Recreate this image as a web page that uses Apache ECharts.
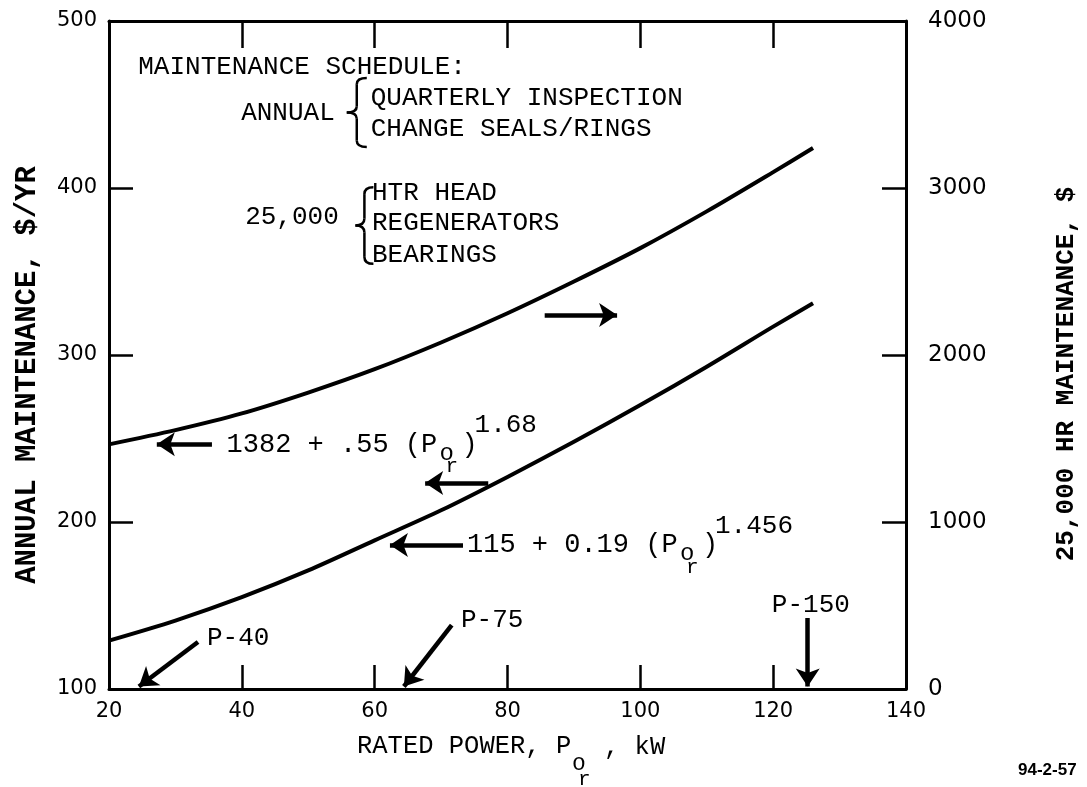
<!DOCTYPE html>
<html><head><meta charset="utf-8">
<script src="https://cdn.jsdelivr.net/npm/echarts@6/dist/echarts.min.js"></script>
<style>html,body{margin:0;padding:0;background:#fff}#c{width:1087px;height:787px}</style>
</head><body><div id="c"></div>
<script>
// ---- data ----
const powerKW      = [20, 30, 40, 50, 60, 70, 80, 90, 100, 110, 120, 126];
const annualCost   = [129, 141, 155, 171, 189, 207, 227, 248, 270, 293, 317, 331];      // $/yr, left axis
const hrCost25000  = [1465, 1550, 1650, 1775, 1915, 2075, 2250, 2440, 2640, 2860, 3095, 3240]; // $, right axis
const xRange = [20, 140, 20];
const yLeftRange = [100, 500, 100];
const yRightRange = [0, 4000, 1000];

const MONO = "'Liberation Mono','DejaVu Sans Mono',monospace";
const SANS = "'DejaVu Sans',sans-serif";
const K = '#000';

const chart = echarts.init(document.getElementById('c'), null, {renderer:'canvas'});

const lineAx = {show:true, onZero:false, lineStyle:{color:K, width:3}};
const tick = len => ({show:true, inside:true, length:len, lineStyle:{color:K, width:2.5}});

// arrows, in data units (x kW, left-axis $/yr)
const arrows = [
  [[35.5, 246.5], [27.2, 246.5]],
  [[77.1, 223.4], [67.6, 223.4]],
  [[85.6, 324.0], [96.5, 324.0]],
  [[73.3, 186.2], [62.3, 186.2]],
  [[33.4, 128.1], [24.5, 101.5]],
  [[71.6, 138.3], [64.4, 101.5]],
  [[125.2, 142.5], [125.2, 101.5]]
];

const option = {
  animation:false,
  backgroundColor:'#fff',
  grid:{left:109, right:181, top:21, bottom:98},
  xAxis:[
    {type:'value', position:'bottom', min:xRange[0], max:xRange[1], interval:xRange[2],
     axisLine:lineAx, axisTick:tick(24), splitLine:{show:false},
     axisLabel:{color:K, fontFamily:SANS, fontSize:21, margin:12}},
    {type:'value', position:'top', min:xRange[0], max:xRange[1], interval:xRange[2],
     axisLine:lineAx, axisTick:tick(27), splitLine:{show:false}, axisLabel:{show:false}}
  ],
  yAxis:[
    {type:'value', position:'left', min:yLeftRange[0], max:yLeftRange[1], interval:yLeftRange[2],
     axisLine:lineAx, axisTick:tick(24), splitLine:{show:false},
     axisLabel:{color:K, fontFamily:SANS, fontSize:21, margin:12, formatter:v=>String(v)}},
    {type:'value', position:'right', min:yRightRange[0], max:yRightRange[1], interval:yRightRange[2],
     axisLine:lineAx, axisTick:tick(24), splitLine:{show:false},
     axisLabel:{color:K, fontFamily:SANS, fontSize:23, margin:22, formatter:v=>String(v)}}
  ],
  series:[
    {type:'line', xAxisIndex:0, yAxisIndex:0, smooth:0.3, showSymbol:false, silent:true,
     data: powerKW.map((x,i)=>[x, annualCost[i]]),
     lineStyle:{color:K, width:4},
     markLine:{silent:true, symbol:['none','arrow'], symbolSize:18,
       label:{show:false}, lineStyle:{color:K, width:4.5, type:'solid'},
       emphasis:{disabled:true},
       data: arrows.map(a=>[{coord:a[0]},{coord:a[1]}])}},
    {type:'line', xAxisIndex:0, yAxisIndex:1, smooth:0.3, showSymbol:false, silent:true,
     data: powerKW.map((x,i)=>[x, hrCost25000[i]]),
     lineStyle:{color:K, width:4}}
  ]
};
chart.setOption(option);

const px = (x,y) => chart.convertToPixel({xAxisIndex:0, yAxisIndex:0}, [x,y]);
const T = (text, x, y, size, opts={}) => ({
  type:'text', x, y, rotation: opts.rot || 0,
  style:{text, fill:K, fontFamily: opts.family || MONO, fontSize:size,
    fontWeight: opts.weight || 'normal',
    align: opts.align || 'left', textAlign: opts.align || 'left',
    verticalAlign:'middle', textVerticalAlign:'middle'}
});
const S = {stroke:K, lineWidth:2.5, fill:null};

const notes = [
  ['MAINTENANCE SCHEDULE:', 24.4, 472.5],
  ['ANNUAL', 39.9, 445.0],
  ['QUARTERLY INSPECTION', 59.4, 454.0],
  ['CHANGE SEALS/RINGS', 59.4, 435.3],
  ['25,000', 40.5, 382.6],
  ['HTR HEAD', 59.6, 397.0],
  ['REGENERATORS', 59.6, 379.0],
  ['BEARINGS', 59.6, 359.9],
  ['P-40', 34.75, 130.5],
  ['P-75', 73.0, 141.3],
  ['P-150', 119.8, 150.3]
];
const braces = [
  [55.8, 465.9, 424.6, 20],
  [57.1, 400.5, 354.6, 18]
];
const equations = [
  ['1382 + .55 (P', '1.68', 37.7, 246.5],
  ['115 + 0.19 (P', '1.456', 73.9, 186.2]
];

const g = [];
notes.forEach(n => { const p = px(n[1], n[2]); g.push(T(n[0], p[0], p[1], 26)); });
braces.forEach(b => {
  const t = px(b[0], b[1]), bt = px(b[0], b[2]);
  const x0 = t[0], y0 = t[1], w = b[3], h = bt[1] - t[1], m = x0 + w/2;
  const bz = (x1,y1,cx,cy,x2,y2) => ({type:'bezierCurve', shape:{x1,y1,cpx1:cx,cpy1:cy,x2,y2}, style:S});
  const ln = (x1,y1,x2,y2) => ({type:'line', shape:{x1,y1,x2,y2}, style:S});
  g.push(bz(x0+w, y0, m, y0, m, y0+0.09*h));
  g.push(ln(m, y0+0.09*h, m, y0+0.41*h));
  g.push(bz(m, y0+0.41*h, m, y0+0.5*h, x0, y0+0.5*h));
  g.push(bz(x0, y0+0.5*h, m, y0+0.5*h, m, y0+0.59*h));
  g.push(ln(m, y0+0.59*h, m, y0+0.91*h));
  g.push(bz(m, y0+0.91*h, m, y0+h, x0+w, y0+h));
});
equations.forEach(e => {
  const p = px(e[2], e[3]);
  g.push(T(e[0], p[0], p[1], 27));
  g.push(T('o', p[0]+213, p[1]+9, 24));
  g.push(T('r', p[0]+219, p[1]+22, 21));
  g.push(T(')', p[0]+235, p[1], 27));
  g.push(T(e[1], p[0]+248, p[1]-19, 26));
});
// axis titles
g.push(T('ANNUAL MAINTENANCE, $/YR', 28, 375, 29, {rot:Math.PI/2, align:'center', weight:'bold'}));
g.push(T('25,000 HR MAINTENANCE, $', 1066, 374, 26, {rot:Math.PI/2, align:'center', weight:'bold'}));
g.push(T('RATED POWER, P', 357, 746, 25.5));
g.push(T('o', 572, 764, 23));
g.push(T('r', 578, 779, 21));
g.push(T(', kW', 604, 747, 25.5));
g.push(T('94-2-57', 1018, 770, 17, {family:"'Liberation Sans',sans-serif", weight:'bold'}));

chart.setOption({graphic:{elements:g}});
</script></body></html>
